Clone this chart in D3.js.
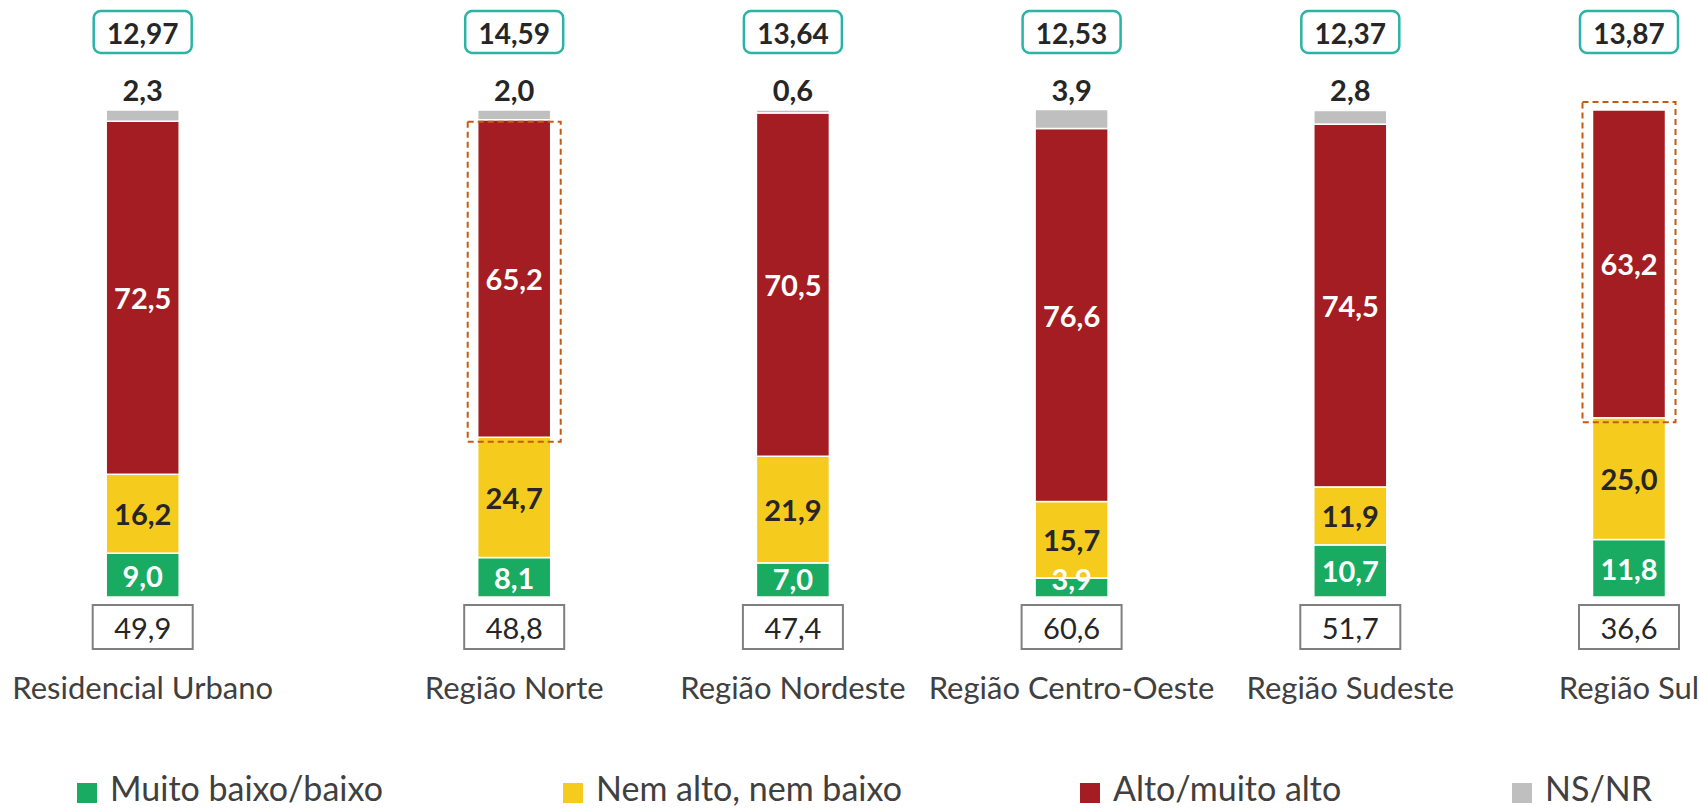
<!DOCTYPE html>
<html>
<head>
<meta charset="utf-8">
<script src="https://cdn.jsdelivr.net/npm/d3@7"></script>
<style>
  html, body { margin: 0; padding: 0; background: #fff; }
  svg { display: block; }
  text { font-family: Lato, "Open Sans", sans-serif; }
</style>
</head>
<body>
<svg id="chart" width="1700" height="809"></svg>
<script>
const categories = ["Residencial Urbano", "Região Norte", "Região Nordeste", "Região Centro-Oeste", "Região Sudeste", "Região Sul"];
const seriesNames = ["Muito baixo/baixo", "Nem alto, nem baixo", "Alto/muito alto", "NS/NR"];
const muitoBaixo = [9.0, 8.1, 7.0, 3.9, 10.7, 11.8];
const nemAlto = [16.2, 24.7, 21.9, 15.7, 11.9, 25.0];
const altoMuito = [72.5, 65.2, 70.5, 76.6, 74.5, 63.2];
const nsnr = [2.3, 2.0, 0.6, 3.9, 2.8, 0];
const topValues = ["12,97", "14,59", "13,64", "12,53", "12,37", "13,87"];
const bottomValues = ["49,9", "48,8", "47,4", "60,6", "51,7", "36,6"];
const highlighted = ["Região Norte", "Região Sul"];

const colors = ["#1aab63", "#f5cb1d", "#a31d22", "#bfbfbf"];
const labelColors = ["#ffffff", "#262626", "#ffffff", "#262626"];
const seriesData = [muitoBaixo, nemAlto, altoMuito, nsnr];

const svg = d3.select("#chart");
const fmt = v => v.toFixed(1).replace(".", ",");

// x positions: first category separated by a wider gap
const step = 278.7, firstGap = 92.8;
const slot = d3.scaleLinear().domain([0, 5]).range([514.2 - step, 514.2 + 4 * step]);
const xCenter = c => {
  const i = categories.indexOf(c);
  return i === 0 ? slot(1) - step - firstGap : slot(i);
};
const barW = 73;

const y = d3.scaleLinear().domain([0, 100]).range([597, 110]);

const rows = categories.map((c, i) => {
  const vals = seriesData.map(s => s[i]);
  let acc = 0;
  const segs = vals.map((v, k) => {
    const s = { cat: c, k, v, y0: acc, y1: acc + v };
    acc += v;
    return s;
  });
  return { cat: c, i, segs };
});

const g = svg.append("g");

rows.forEach(r => {
  const cx = xCenter(r.cat);
  const gg = g.append("g");
  gg.selectAll("rect.seg")
    .data(r.segs.filter(s => s.v > 0))
    .join("rect")
    .attr("class", "seg")
    .attr("x", cx - barW / 2)
    .attr("width", barW)
    .attr("y", d => y(d.y1))
    .attr("height", d => y(d.y0) - y(d.y1))
    .attr("fill", d => colors[d.k])
    .attr("stroke", "#ffffff")
    .attr("stroke-width", 1.5);

  gg.selectAll("text.seglab")
    .data(r.segs.filter(s => s.k < 3))
    .join("text")
    .attr("class", "seglab")
    .attr("x", cx)
    .attr("y", d => Math.min((y(d.y0) + y(d.y1)) / 2, y(d.y0) - 19))
    .attr("text-anchor", "middle")
    .attr("dominant-baseline", "central")
    .attr("font-size", 29)
    .attr("font-weight", 700)
    .attr("fill", d => labelColors[d.k])
    .text(d => fmt(d.v));

  const ns = r.segs[3];
  if (ns.v > 0) {
    gg.append("text")
      .attr("x", cx)
      .attr("y", y(100) - 21)
      .attr("text-anchor", "middle")
      .attr("dominant-baseline", "central")
      .attr("font-size", 29)
      .attr("font-weight", 700)
      .attr("fill", "#262626")
      .text(fmt(ns.v));
  }

  gg.append("rect")
    .attr("x", cx - 49).attr("y", 11)
    .attr("width", 98).attr("height", 42)
    .attr("rx", 7)
    .attr("fill", "#fff")
    .attr("stroke", "#2bb3a6")
    .attr("stroke-width", 2.5);
  gg.append("text")
    .attr("x", cx).attr("y", 33)
    .attr("text-anchor", "middle")
    .attr("dominant-baseline", "central")
    .attr("font-size", 28)
    .attr("font-weight", 700)
    .attr("fill", "#262626")
    .text(topValues[r.i]);

  gg.append("rect")
    .attr("x", cx - 50).attr("y", 605)
    .attr("width", 100).attr("height", 44)
    .attr("fill", "#fff")
    .attr("stroke", "#7f7f7f")
    .attr("stroke-width", 2);
  gg.append("text")
    .attr("x", cx).attr("y", 627)
    .attr("text-anchor", "middle")
    .attr("dominant-baseline", "central")
    .attr("font-size", 29)
    .attr("fill", "#262626")
    .text(bottomValues[r.i]);

  gg.append("text")
    .attr("x", cx).attr("y", 699)
    .attr("text-anchor", "middle")
    .attr("font-size", 31)
    .attr("fill", "#404040")
    .text(r.cat);

  if (highlighted.includes(r.cat)) {
    const red = r.segs[2];
    const top = r.segs[3].v > 0 ? y(red.y1) + 2 : y(red.y1) - 8;
    g.append("rect")
      .attr("x", cx - barW / 2 - 10)
      .attr("width", barW + 20)
      .attr("y", top)
      .attr("height", y(red.y0) + 4.5 - top)
      .attr("fill", "none")
      .attr("stroke", "#c55a11")
      .attr("stroke-width", 2)
      .attr("stroke-dasharray", "6,4");
  }
});

// legend
const legendX = [77, 563, 1080, 1512];
const lg = svg.append("g").selectAll("g")
  .data(seriesNames)
  .join("g")
  .attr("transform", (d, i) => `translate(${legendX[i]},0)`);
lg.append("rect")
  .attr("x", 0).attr("y", 783)
  .attr("width", 20).attr("height", 20)
  .attr("fill", (d, i) => colors[i]);
lg.append("text")
  .attr("x", 33).attr("y", 801)
  .attr("font-size", 34)
  .attr("fill", "#404040")
  .text(d => d);
</script>
</body>
</html>
